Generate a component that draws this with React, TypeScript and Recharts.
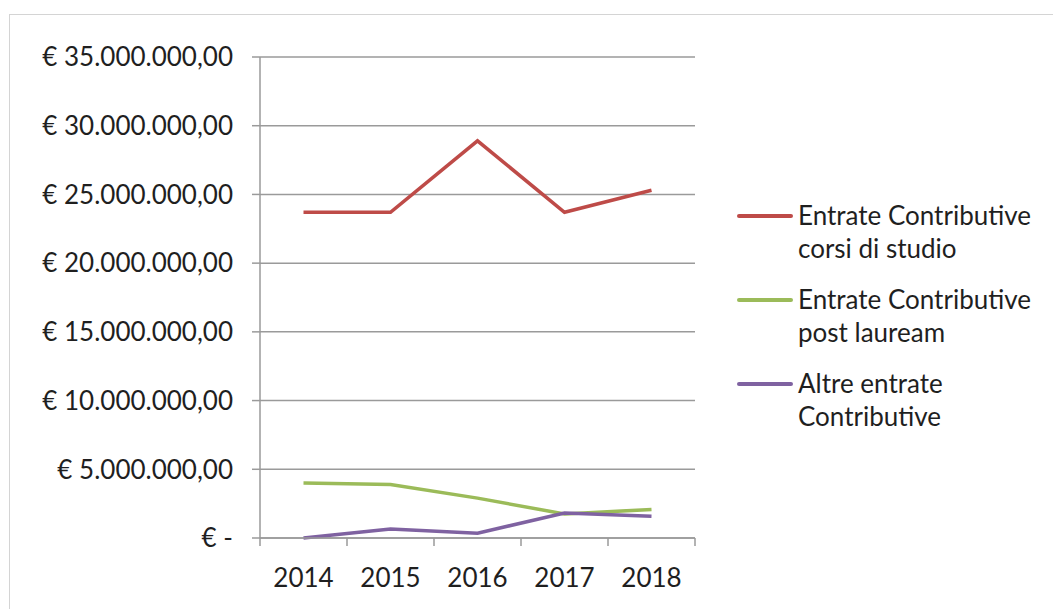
import { LineChart, Line, XAxis, YAxis, CartesianGrid } from "recharts";

const YEARS = ["2014", "2015", "2016", "2017", "2018"];
const CORSI = [23700000, 23700000, 28900000, 23700000, 25300000];
const POST = [4000000, 3900000, 2900000, 1750000, 2080000];
const ALTRE = [0, 650000, 350000, 1820000, 1580000];
const Y_TICKS = [0, 5000000, 10000000, 15000000, 20000000, 25000000, 30000000, 35000000];

const SERIES = [
  { key: "corsi", lines: ["Entrate Contributive", "corsi di studio"], color: "#BE4B48" },
  { key: "post", lines: ["Entrate Contributive", "post lauream"], color: "#9BBB59" },
  { key: "altre", lines: ["Altre entrate", "Contributive"], color: "#7F62A1" },
];

const data = YEARS.map((year, i) => ({
  x: i + 0.5,
  year,
  corsi: CORSI[i],
  post: POST[i],
  altre: ALTRE[i],
}));

const FONT = "Lato, 'Open Sans', sans-serif";
const FS = 26;
const INK = "#1f1f1f";
const GRID = "#9a9a9a";

const W = 1044;
const H = 595;

function euro(v: number) {
  if (v === 0) return "€ -";
  const s = Math.round(v)
    .toString()
    .replace(/\B(?=(\d{3})+(?!\d))/g, ".");
  return `€ ${s},00`;
}

function XTick(props: { x?: number; y?: number; payload?: { value: number } }) {
  const x = props.x ?? 0;
  const y = props.y ?? 0;
  const v = props.payload?.value ?? 0;
  if (Number.isInteger(v)) {
    return <line x1={x} x2={x} y1={y} y2={y + 8} stroke={GRID} strokeWidth={1.5} />;
  }
  return (
    <text
      x={x}
      y={y + 39}
      textAnchor="middle"
      dominantBaseline="central"
      style={{ fontFamily: FONT, fontSize: FS, fill: INK }}
    >
      {YEARS[Math.floor(v)]}
    </text>
  );
}

function LegendBox() {
  return (
    <div
      style={{
        position: "absolute",
        left: 727,
        top: 184,
        fontFamily: FONT,
        fontSize: FS,
        color: INK,
        lineHeight: "33px",
      }}
    >
      {SERIES.map((s) => (
        <div key={s.key} style={{ display: "flex", alignItems: "flex-start", marginBottom: 18 }}>
          <div
            style={{
              width: 56,
              height: 3.5,
              background: s.color,
              marginTop: 15,
              marginRight: 5,
              borderRadius: 2,
            }}
          />
          <div>
            {s.lines.map((l) => (
              <div key={l} style={{ whiteSpace: "nowrap" }}>{l}</div>
            ))}
          </div>
        </div>
      ))}
    </div>
  );
}

export default function App() {
  return (
    <div
      style={{
        position: "absolute",
        left: 9,
        top: 14,
        width: W,
        height: H,
        borderTop: "1.5px solid #d4d4d4",
        borderLeft: "1.5px solid #d4d4d4",
        background: "#fff",
      }}
    >
      <LineChart
        width={W}
        height={H}
        data={data}
        margin={{ top: 42, right: 359, bottom: 12, left: 0 }}
      >
        <CartesianGrid stroke={GRID} strokeWidth={1.5} vertical={false} />
        <XAxis
          type="number"
          dataKey="x"
          domain={[0, 5]}
          ticks={[0, 0.5, 1, 1.5, 2, 2.5, 3, 3.5, 4, 4.5, 5]}
          interval={0}
          tickLine={false}
          tickSize={0}
          tickMargin={0}
          axisLine={{ stroke: GRID, strokeWidth: 1.5 }}
          tick={<XTick />}
          height={60}
        />
        <YAxis
          domain={[0, 35000000]}
          ticks={Y_TICKS}
          interval={0}
          width={250}
          tickSize={8}
          tickMargin={19}
          tickLine={{ stroke: GRID, strokeWidth: 1.5 }}
          axisLine={{ stroke: GRID, strokeWidth: 1.5 }}
          tickFormatter={euro}
          tick={{ fontFamily: FONT, fontSize: FS, fill: INK }}
        />
        {SERIES.map((s) => (
          <Line
            key={s.key}
            dataKey={s.key}
            stroke={s.color}
            strokeWidth={3.5}
            dot={false}
            activeDot={false}
            isAnimationActive={false}
          />
        ))}
      </LineChart>
      <LegendBox />
    </div>
  );
}
